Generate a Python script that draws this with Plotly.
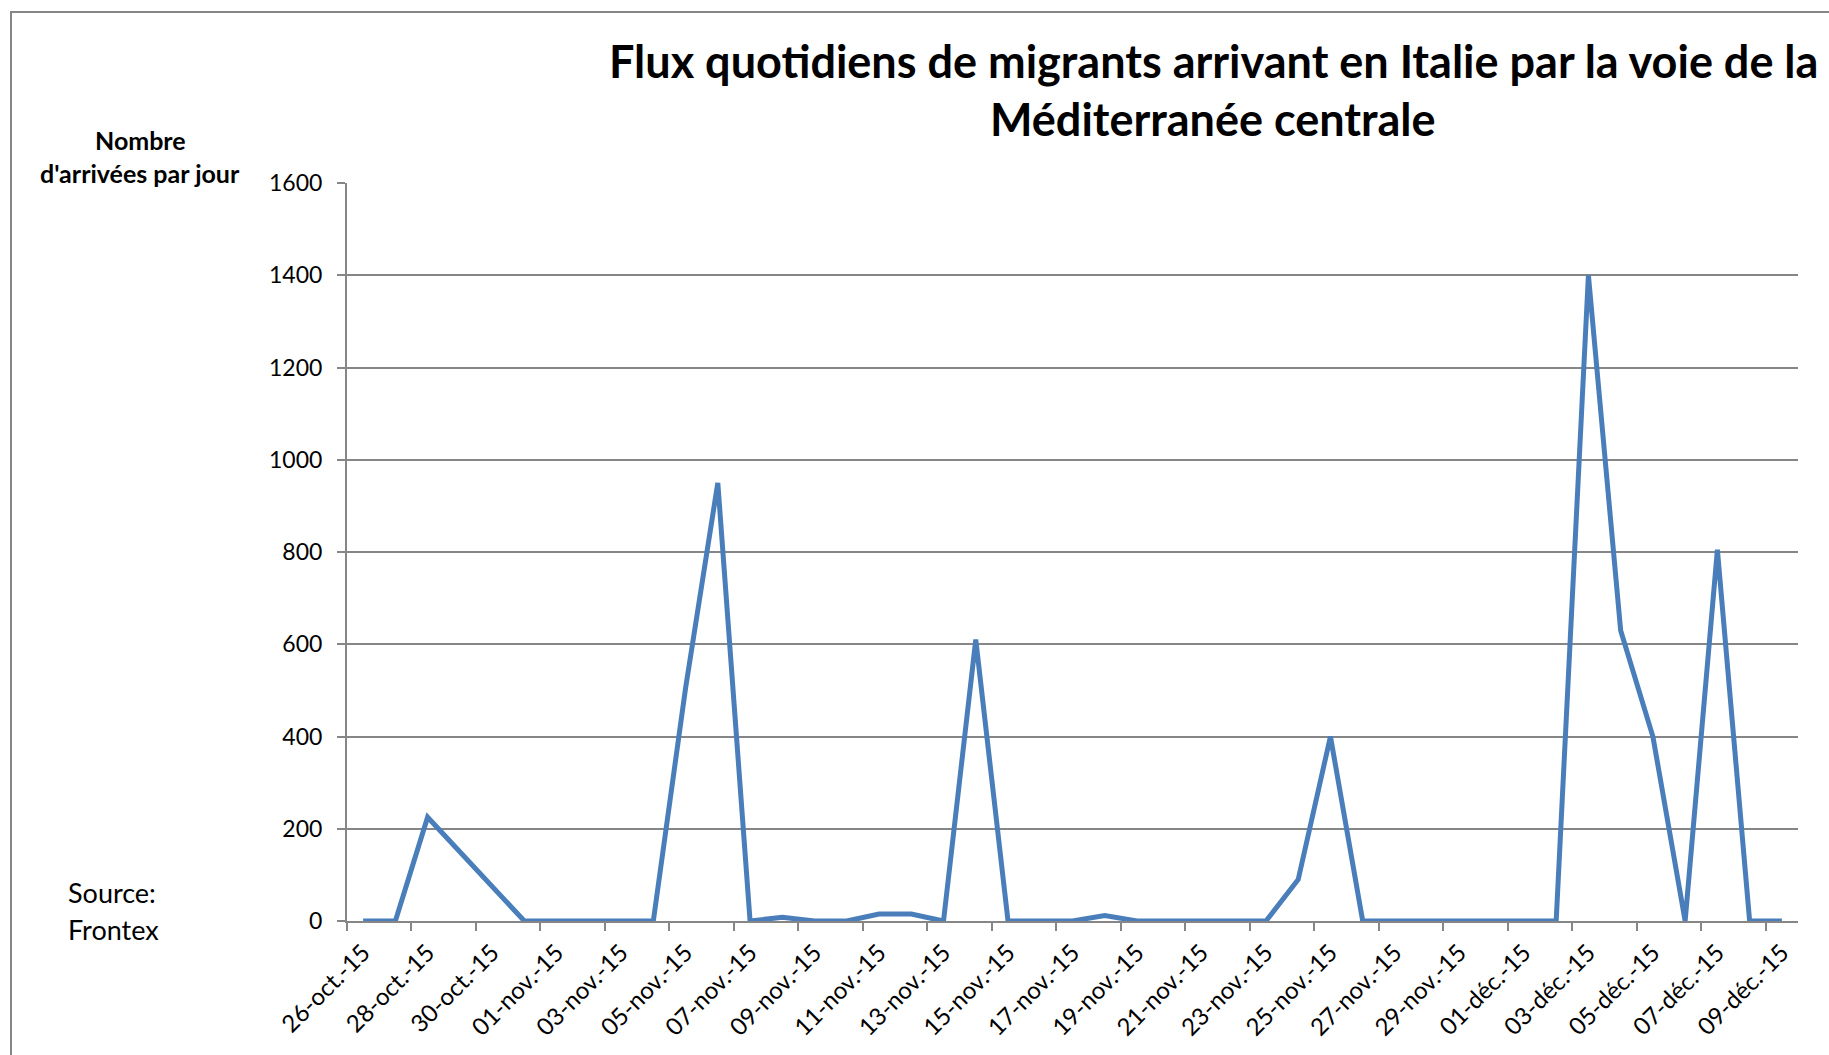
import plotly.graph_objects as go

# ---- data ----
dates = [
    "26-oct.-15", "27-oct.-15", "28-oct.-15", "29-oct.-15", "30-oct.-15", "31-oct.-15",
    "01-nov.-15", "02-nov.-15", "03-nov.-15", "04-nov.-15", "05-nov.-15", "06-nov.-15",
    "07-nov.-15", "08-nov.-15", "09-nov.-15", "10-nov.-15", "11-nov.-15", "12-nov.-15",
    "13-nov.-15", "14-nov.-15", "15-nov.-15", "16-nov.-15", "17-nov.-15", "18-nov.-15",
    "19-nov.-15", "20-nov.-15", "21-nov.-15", "22-nov.-15", "23-nov.-15", "24-nov.-15",
    "25-nov.-15", "26-nov.-15", "27-nov.-15", "28-nov.-15", "29-nov.-15", "30-nov.-15",
    "01-déc.-15", "02-déc.-15", "03-déc.-15", "04-déc.-15", "05-déc.-15", "06-déc.-15",
    "07-déc.-15", "08-déc.-15", "09-déc.-15",
]
arrivals = [
    0, 0, 225, 150, 75, 0,
    0, 0, 0, 0, 505, 950,
    0, 8, 0, 0, 15, 15,
    0, 610, 0, 0, 0, 12,
    0, 0, 0, 0, 0, 90,
    400, 0, 0, 0, 0, 0,
    0, 0, 1400, 630, 400, 0,
    805, 0, 0,
]
shown_labels = dates[::2]
y_ticks = [0, 200, 400, 600, 800, 1000, 1200, 1400, 1600]

title_l1 = "Flux quotidiens de migrants arrivant en Italie par la voie de la"
title_l2 = "Méditerranée centrale"
ytitle_l1 = "Nombre"
ytitle_l2 = "d'arrivées par jour"
source_l1 = "Source:"
source_l2 = "Frontex"

# ---- layout geometry ----
W, H = 1829, 1055
L, R, T, B = 347, 31, 183, 134
PW, PH = W - L - R, H - T - B
FONT = "Lato"
GRID = "#868686"
LINE = "#4A7EBB"


def px(x):
    return (x - L) / PW


def py(y):
    return (T + PH - y) / PH


n = len(dates)
fig = go.Figure()
fig.add_trace(go.Scatter(
    x=dates, y=arrivals, mode="lines",
    line=dict(color=LINE, width=5),
    showlegend=False, hoverinfo="x+y",
))
# invisible trace to activate boundary-tick axis
fig.add_trace(go.Scatter(x=[-0.5], y=[0], xaxis="x2", mode="markers",
                         marker=dict(opacity=0), showlegend=False, hoverinfo="skip"))

fig.update_layout(
    width=W, height=H,
    margin=dict(l=L, r=R, t=T, b=B, autoexpand=False),
    paper_bgcolor="white", plot_bgcolor="white",
    font=dict(family=FONT, color="black"),
    xaxis=dict(
        type="category", range=[-0.5, n - 0.5],
        tickmode="array", tickvals=shown_labels, ticktext=shown_labels,
        tickangle=-45, tickfont=dict(size=24, family=FONT),
        ticks="outside", ticklen=6, tickcolor="rgba(0,0,0,0)",
        showgrid=False, zeroline=False,
        showline=True, linecolor=GRID, linewidth=2,
        automargin=False,
    ),
    xaxis2=dict(
        overlaying="x", side="bottom", type="linear",
        range=[-0.5, n - 0.5],
        tickmode="array", tickvals=[i - 0.5 for i in range(0, n, 2)],
        showticklabels=False, ticks="outside", ticklen=9, tickwidth=2,
        tickcolor=GRID, showgrid=False, zeroline=False, showline=False,
        automargin=False,
    ),
    yaxis=dict(
        range=[0, 1600], tickmode="array", tickvals=y_ticks,
        tickfont=dict(size=23, family=FONT),
        ticks="outside", ticklen=8, tickwidth=2, tickcolor=GRID,
        ticklabelstandoff=10,
        showgrid=True, gridcolor=GRID, gridwidth=2,
        zeroline=False, showline=True, linecolor=GRID, linewidth=2,
        automargin=False,
    ),
)

ann = [
    (title_l1, 1213, 61, 45, True, "center"),
    (title_l2, 1213, 119, 45, True, "center"),
    (ytitle_l1, 140, 140, 25, True, "center"),
    (ytitle_l2, 140, 173, 25, True, "center"),
]
for text, x, y, size, bold, align in ann:
    fig.add_annotation(
        text=f"<b>{text}</b>" if bold else text,
        xref="paper", yref="paper", x=px(x), y=py(y),
        xanchor=align, yanchor="middle", showarrow=False,
        font=dict(size=size, family=FONT, color="black"),
    )
for text, y in [(source_l1, 892), (source_l2, 929)]:
    fig.add_annotation(
        text=text, xref="paper", yref="paper", x=px(66), y=py(y),
        xanchor="left", yanchor="middle", showarrow=False,
        font=dict(size=27, family=FONT, color="black"),
    )

# outer chart frame (cropped at right / bottom as in reference)
fig.add_shape(type="rect", xref="paper", yref="paper",
              x0=px(11), x1=px(W + 20), y0=py(H + 20), y1=py(12),
              line=dict(color=GRID, width=2), fillcolor="rgba(0,0,0,0)", layer="below")

fig.write_html("out.html", config={"displayModeBar": False},
               post_script="document.body.style.margin='0px';document.body.style.overflow='hidden';")
